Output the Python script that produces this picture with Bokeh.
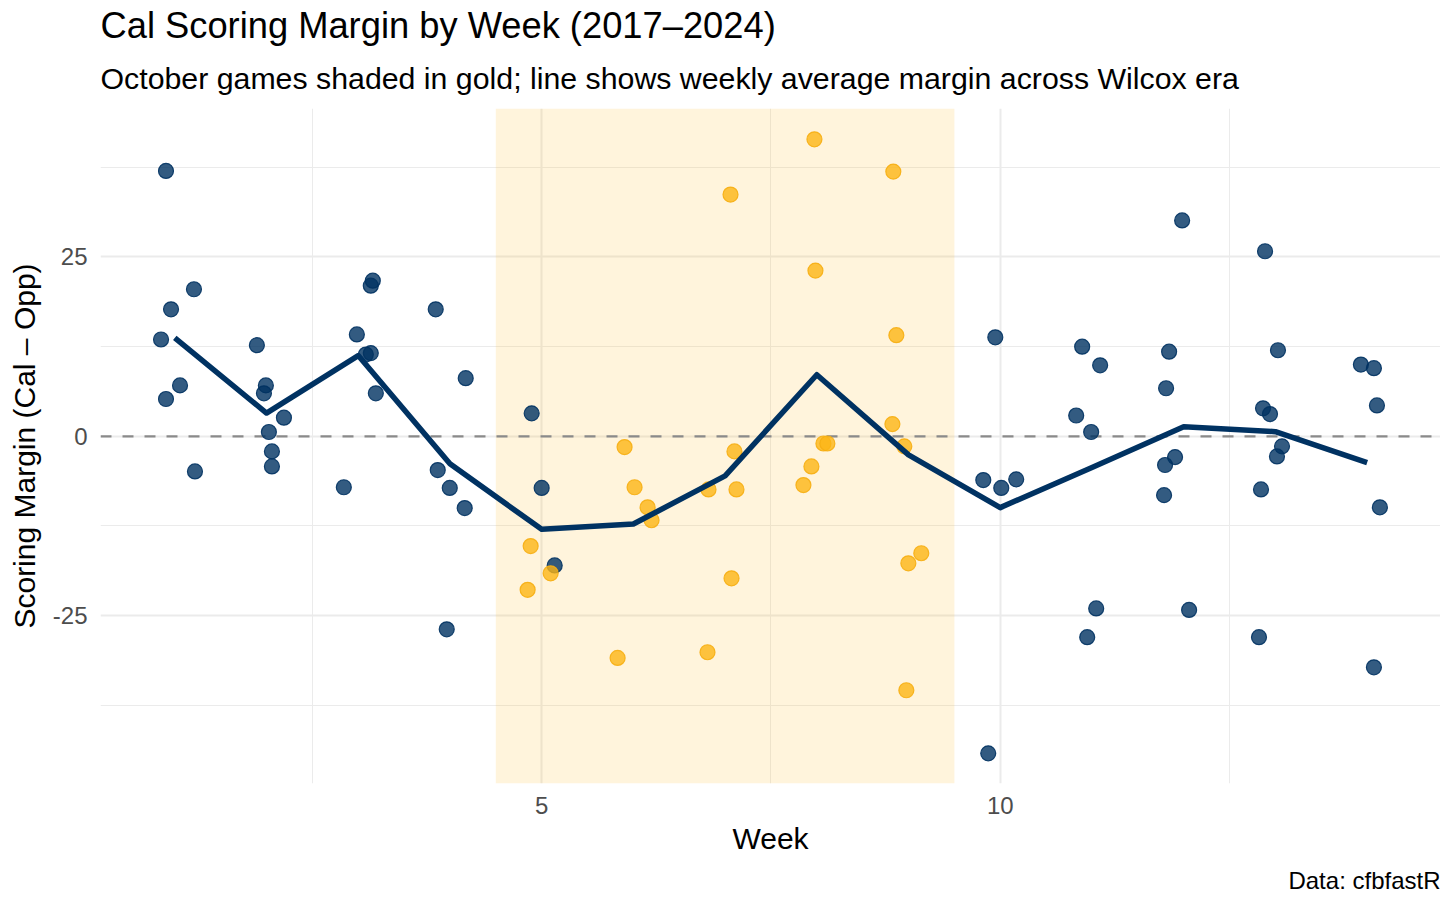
import pandas as pd
from bokeh.plotting import figure
from bokeh.models import (ColumnDataSource, FixedTicker, BoxAnnotation, Span, Title, Range1d)
from bokeh.embed import file_html
from bokeh.resources import INLINE

# ---------------- data ----------------
week = ([1] * 7 + [2] * 7 + [3] * 7 + [4] * 6 + [5] * 6 + [6] * 5 + [7] * 6 +
        [8] * 6 + [9] * 7 + [10] * 5 + [11] * 6 + [12] * 7 + [13] * 8 + [14] * 5)

week_jitter = [
    0.904, 0.850, 0.959, 1.209, 1.057, 0.904, 1.220,
    1.895, 1.993, 1.972, 2.026, 2.059, 2.059, 2.190,
    2.843, 2.985, 3.083, 3.137, 3.137, 3.159, 3.192,
    3.845, 3.867, 3.998, 3.965, 4.161, 4.172,
    4.891, 5.000, 5.142, 4.880, 4.847, 5.098,
    5.904, 6.013, 6.155, 6.198, 5.828,
    7.059, 7.102, 6.819, 7.124, 7.070, 6.808,
    7.974, 7.985, 8.072, 8.115, 7.941, 7.854,
    8.834, 8.867, 8.824, 8.954, 8.998, 9.139, 8.976,
    9.946, 9.815, 10.011, 10.174, 9.869,
    10.893, 11.089, 10.828, 10.991, 11.046, 10.948,
    11.983, 11.841, 11.808, 11.906, 11.797, 11.786, 12.059,
    12.887, 13.028, 12.865, 12.941, 13.072, 13.017, 12.843, 12.821,
    13.932, 14.074, 14.107, 14.139, 14.074,
]

margin = [
    37.0, 13.5, 17.7, 20.5, 7.1, 5.2, -4.9,
    12.7, 7.1, 6.0, 0.6, -2.1, -4.2, 2.6,
    -7.1, 14.2, 11.4, 11.6, 21.0, 21.7, 6.0,
    17.7, -4.7, -7.2, -26.9, -10.0, 8.1,
    3.2, -7.2, -18.0, -15.3, -21.4, -19.1,
    -1.5, -7.1, -9.9, -11.7, -30.9,
    33.7, -2.1, -7.4, -7.4, -19.8, -30.1,
    41.4, 23.1, -1.0, -1.0, -4.2, -6.8,
    36.9, 14.1, 1.7, -1.4, -17.7, -16.3, -35.4,
    13.8, -6.1, -7.2, -6.0, -44.2,
    12.5, 9.9, 2.9, 0.6, -24.0, -28.0,
    30.1, 11.8, 6.7, -2.9, -4.0, -8.2, -24.2,
    25.8, 12.0, 3.9, 3.1, -1.4, -2.8, -7.4, -28.0,
    10.0, 9.5, 4.3, -9.9, -32.2,
]

october = ([False] * 27 + [False] * 3 + [True] * 3 + [True] * 5 + [True] * 6 +
           [True] * 6 + [True] * 7 + [False] * 5 + [False] * 6 + [False] * 7 +
           [False] * 8 + [False] * 5)

x_ticks = [5, 10]
y_ticks = [-25, 0, 25]
y_tick_labels = ["-25", "0", "25"]

NAVY = "#003262"
GOLD = "#FDB515"
FONT = "Liberation Sans"

df = pd.DataFrame({"week": week, "x": week_jitter, "margin": margin, "october": october})
avg = df.groupby("week", as_index=False)["margin"].mean()

# ---------------- figure ----------------
p = figure(width=1440, height=900, output_backend="svg", toolbar_location=None,
           x_range=Range1d(0.19, 14.80), y_range=Range1d(-48.4, 45.7),
           min_border_left=100, min_border_right=0, min_border_top=108, min_border_bottom=117)
p.outline_line_color = None
p.background_fill_color = "white"
p.border_fill_color = "white"

# grid
p.xaxis.ticker = FixedTicker(ticks=x_ticks, minor_ticks=[2.5, 7.5, 12.5])
p.yaxis.ticker = FixedTicker(ticks=y_ticks, minor_ticks=[-37.5, -12.5, 12.5, 37.5])
p.yaxis.major_label_overrides = dict(zip(y_ticks, y_tick_labels))
for g in (p.xgrid, p.ygrid):
    g.grid_line_color = "#EBEBEB"
    g.grid_line_width = 2
    g.minor_grid_line_color = "#EBEBEB"
    g.minor_grid_line_width = 1

# axes
for ax in (p.xaxis, p.yaxis):
    ax.axis_line_color = None
    ax.major_tick_line_color = None
    ax.minor_tick_line_color = None
    ax.major_tick_out = 0
    ax.major_tick_in = 0
    ax.minor_tick_out = 0
    ax.minor_tick_in = 0
    ax.major_label_text_font = FONT
    ax.major_label_text_font_size = "24px"
    ax.major_label_text_color = "#4D4D4D"
    ax.axis_label_text_font = FONT
    ax.axis_label_text_font_size = "30px"
    ax.axis_label_text_font_style = "normal"
    ax.axis_label_text_color = "black"

p.xaxis.axis_label = "Week"
p.xaxis.major_label_standoff = 13
p.xaxis.axis_label_standoff = 5
p.yaxis.axis_label = "Scoring Margin (Cal \u2013 Opp)"
p.yaxis.major_label_standoff = 13
p.yaxis.axis_label_standoff = 9

# October shading
shade = BoxAnnotation(left=4.5, right=9.5, fill_color=GOLD, fill_alpha=0.15,
                      line_color=None, level="underlay")
p.add_layout(shade)

# zero line
p.add_layout(Span(location=0, dimension="width", line_color="#8A8A8A",
                  line_width=2.2, line_dash="11 11", level="underlay"))

# points
src_sep = ColumnDataSource(df[~df["october"]])
src_oct = ColumnDataSource(df[df["october"]])
p.scatter("x", "margin", source=src_sep, size=15, fill_color=NAVY, fill_alpha=0.8,
          line_color=NAVY, line_alpha=0.9, line_width=1.2)
p.scatter("x", "margin", source=src_oct, size=15, fill_color=GOLD, fill_alpha=0.8,
          line_color="#F6AE12", line_alpha=0.9, line_width=1.2)

# weekly average line
p.line(avg["week"], avg["margin"], line_color=NAVY, line_width=5.5, line_join="round")

# titles (subtitle first so that it sits nearer the frame) and caption
p.add_layout(Title(text="October games shaded in gold; line shows weekly average margin across Wilcox era",
                   text_font=FONT, text_font_size="30.3px", text_font_style="normal",
                   text_color="black", align="left", standoff=28, text_line_height=0.85), "above")
p.add_layout(Title(text="Cal Scoring Margin by Week (2017\u20132024)",
                   text_font=FONT, text_font_size="36.3px", text_font_style="normal",
                   text_color="black", align="left", standoff=0), "above")
p.add_layout(Title(text="Data: cfbfastR",
                   text_font=FONT, text_font_size="24px", text_font_style="normal",
                   text_color="black", align="right", standoff=14), "below")

open("out.html", "w").write(file_html(p, INLINE))
